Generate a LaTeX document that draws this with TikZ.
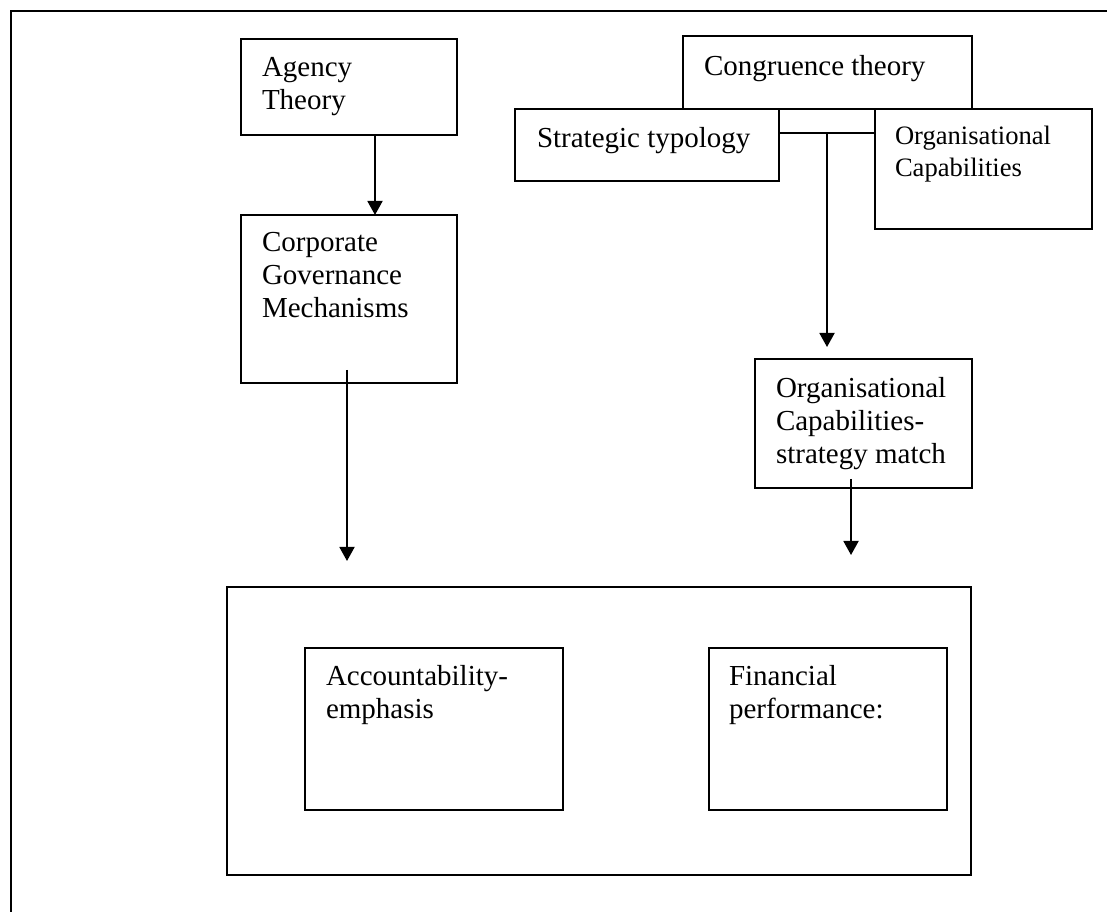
\documentclass[tikz,border=0pt]{standalone}
\usepackage{fontspec}
\setmainfont{Liberation Serif}
\usetikzlibrary{arrows.meta,calc}
\def\pxlen{0.41379pt}
\begin{document}
\begin{tikzpicture}[x=0.41379pt,y=-0.41379pt,
  box/.style={draw,line width=0.8pt,inner sep=0pt,outer sep=0pt,anchor=north west,fill=white},
  txt/.style={inner sep=0pt,outer sep=0pt,anchor=north west,align=left,font=\fontsize{12}{13.8}\selectfont},
  smalltxt/.style={txt,font=\fontsize{11}{13.1}\selectfont},
  arr/.style={line width=0.8pt,-{Triangle[width=6.2pt,length=5.8pt]}},
  ln/.style={line width=0.8pt},
  frame/.style={line width=1.1pt}]
\useasboundingbox (0,0) rectangle (1107,912);
% outer frame (left and top edges only)
\coordinate (frBL) at (11,912);
\coordinate (frTL) at (11,11);
\coordinate (frTR) at (1107,11);
\draw[frame] (frBL) -- (frTL) -- (frTR);
% boxes
\node[box,minimum width=216*\pxlen,minimum height=96*\pxlen]  (agency) at (241,39)  {};
\node[box,minimum width=216*\pxlen,minimum height=168*\pxlen] (corp)   at (241,215) {};
\node[box,minimum width=289*\pxlen,minimum height=73*\pxlen]  (congr)  at (683,36)  {};
\node[box,minimum width=264*\pxlen,minimum height=72*\pxlen]  (strat)  at (515,109) {};
\node[box,minimum width=217*\pxlen,minimum height=120*\pxlen] (orgcap) at (875,109) {};
\node[box,minimum width=217*\pxlen,minimum height=129*\pxlen] (match)  at (755,359) {};
\node[box,minimum width=744*\pxlen,minimum height=288*\pxlen] (big)    at (227,587) {};
\node[box,minimum width=258*\pxlen,minimum height=162*\pxlen] (acc)    at (305,648) {};
\node[box,minimum width=238*\pxlen,minimum height=162*\pxlen] (fin)    at (709,648) {};
% texts
\node[txt] (agencyT) at (262,57)  {Agency\\Theory};
\node[txt] (corpT)   at (262,232) {Corporate\\Governance\\Mechanisms};
\node[txt] (congrT)  at (704,55)  {Congruence theory};
\node[txt] (stratT)  at (537,127) {Strategic typology};
\node[smalltxt] (orgcapT) at (895,126) {Organisational\\Capabilities};
\node[txt] (matchT)  at (776,377) {Organisational\\Capabilities-\\strategy match};
\node[txt] (accT)    at (326,665) {Accountability-\\emphasis};
\node[txt] (finT)    at (729,665) {Financial\\performance:};
% connectors
\draw[arr] ($(agency.south west)+(134,0)$) -- ($(corp.north west)+(134,0)$);
\coordinate (corpTip) at (347,561);
\draw[arr] ($(corp.south west)+(106,-13)$) -- (corpTip);
\draw[ln] ($(strat.north east)+(0,24)$) -- ($(orgcap.north west)+(0,24)$);
\coordinate (junc) at (827,133);
\draw[arr] (junc) -- ($(match.north west)+(72,-12)$);
\coordinate (matchTip) at (851,555);
\draw[arr] ($(match.south west)+(96,-9)$) -- (matchTip);
\end{tikzpicture}
\end{document}
